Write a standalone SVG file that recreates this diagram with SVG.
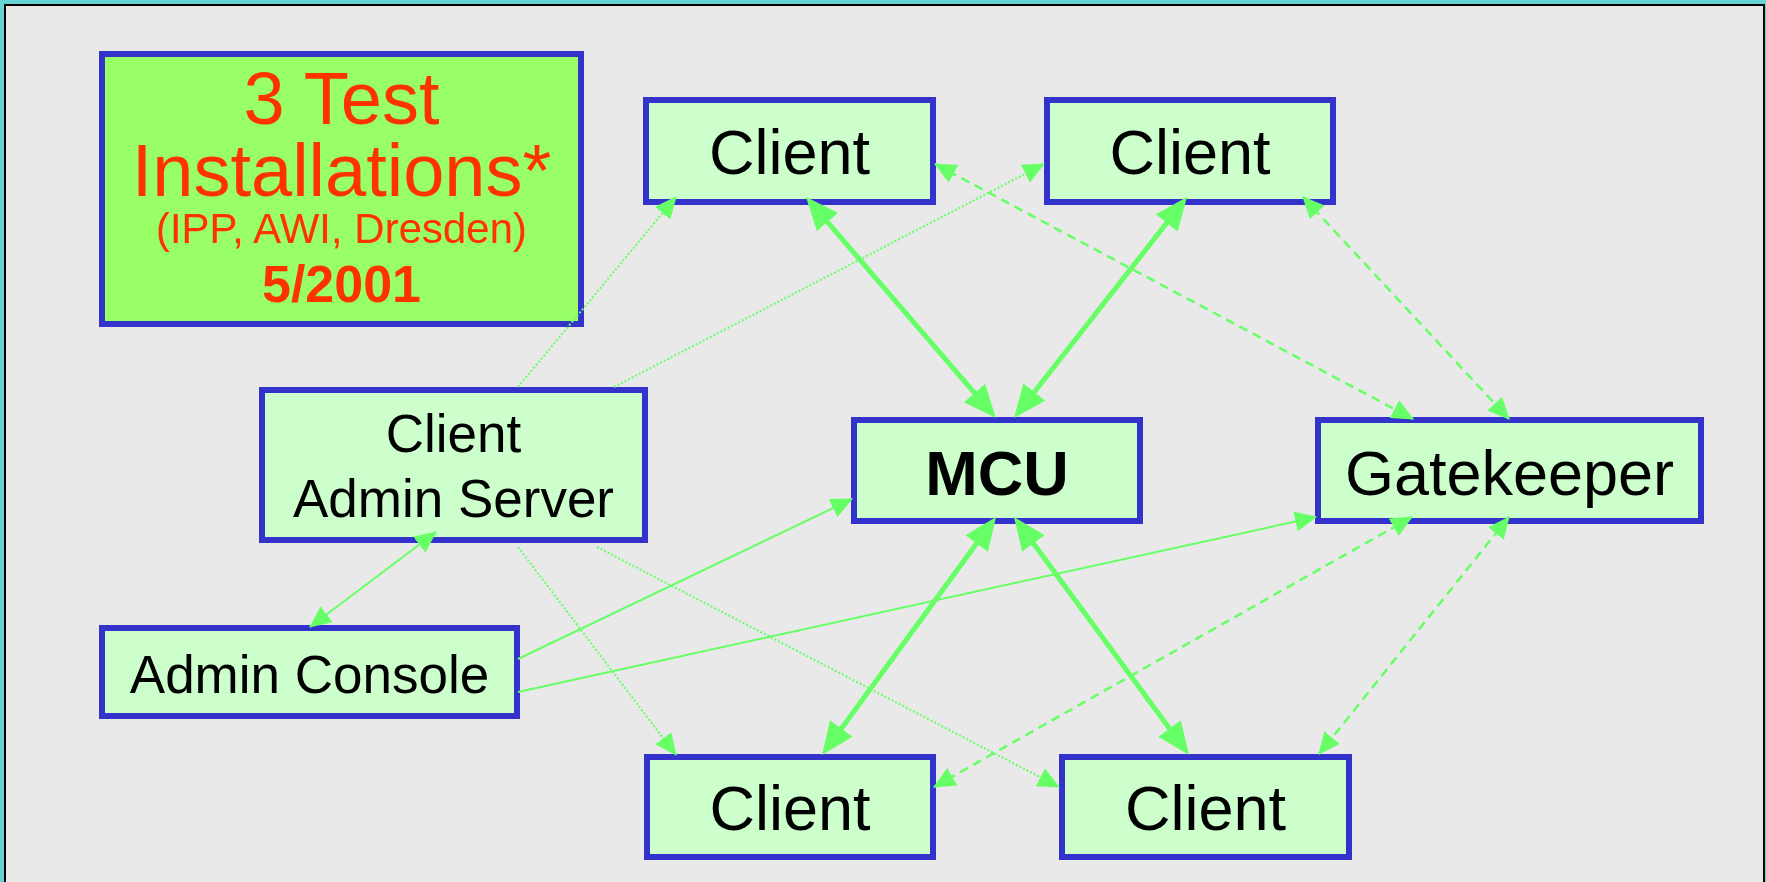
<svg xmlns="http://www.w3.org/2000/svg" width="1766" height="882" viewBox="0 0 1766 882">
  <defs>
    <style>
      .box { fill: #ccffcc; stroke: #3333cc; stroke-width: 6; }
      .title-box { fill: #99ff66; stroke: #3333cc; stroke-width: 6; }
      .lbl { font-family: "Liberation Sans", Arial, sans-serif; fill: #000; text-anchor: middle; }
      .ttl { font-family: "Liberation Sans", Arial, sans-serif; fill: #ff3300; text-anchor: middle; }
      .thick { stroke: #66ff66; stroke-width: 5; fill: none; marker-start: url(#bigArrow); marker-end: url(#bigArrow); }
      .dash { stroke: #66ff66; stroke-width: 2.5; fill: none; stroke-dasharray: 9 6; }
      .dot { stroke: #66ff66; stroke-width: 2; fill: none; stroke-dasharray: 2 2; }
      .thin { stroke: #66ff66; stroke-width: 2; fill: none; }
    </style>
    <marker id="bigArrow" viewBox="0 -14 33 28" markerWidth="33" markerHeight="28" refX="26" refY="0" markerUnits="userSpaceOnUse" orient="auto-start-reverse">
      <path d="M0,-14 L33,0 L0,14 z" fill="#66ff66"/>
    </marker>
    <marker id="smallArrow" viewBox="0 -10 22 20" markerWidth="22" markerHeight="20" refX="21" refY="0" markerUnits="userSpaceOnUse" orient="auto-start-reverse">
      <path d="M0,-10 L22,0 L0,10 z" fill="#66ff66"/>
    </marker>
  </defs>

  <!-- slide frame -->
  <rect x="0" y="0" width="1766" height="882" fill="#66d4d4"/>
  <rect x="5" y="5" width="1759" height="900" fill="#e9e9e9" stroke="#000" stroke-width="2"/>

  <!-- nodes -->
  <g id="title">
    <rect class="title-box" x="102" y="54" width="479" height="270"/>
    <text class="ttl" x="341.5" y="124" font-size="74">3 Test</text>
    <text class="ttl" x="341.5" y="196" font-size="74">Installations*</text>
    <text class="ttl" x="341.5" y="243" font-size="42">(IPP, AWI, Dresden)</text>
    <text class="ttl" x="341.5" y="302" font-size="52" font-weight="bold">5/2001</text>
  </g>
  <g id="client-top-left">
    <rect class="box" x="646" y="100" width="287" height="102"/>
    <text class="lbl" x="789.5" y="174" font-size="63">Client</text>
  </g>
  <g id="client-top-right">
    <rect class="box" x="1047" y="100" width="286" height="102"/>
    <text class="lbl" x="1190" y="174" font-size="63">Client</text>
  </g>
  <g id="client-admin-server">
    <rect class="box" x="262" y="390" width="383" height="150"/>
    <text class="lbl" x="453.5" y="452" font-size="53">Client</text>
    <text class="lbl" x="453.5" y="517" font-size="53">Admin Server</text>
  </g>
  <g id="admin-console">
    <rect class="box" x="102" y="628" width="415" height="88"/>
    <text class="lbl" x="309.5" y="693" font-size="53">Admin Console</text>
  </g>
  <g id="mcu">
    <rect class="box" x="854" y="420" width="286" height="101"/>
    <text class="lbl" x="997" y="495" font-size="63" font-weight="bold">MCU</text>
  </g>
  <g id="gatekeeper">
    <rect class="box" x="1318" y="420" width="383" height="101"/>
    <text class="lbl" x="1509.5" y="495" font-size="63">Gatekeeper</text>
  </g>
  <g id="client-bottom-left">
    <rect class="box" x="647" y="757" width="286" height="100"/>
    <text class="lbl" x="790" y="830" font-size="63">Client</text>
  </g>
  <g id="client-bottom-right">
    <rect class="box" x="1062" y="757" width="287" height="100"/>
    <text class="lbl" x="1205.5" y="830" font-size="63">Client</text>
  </g>

  <!-- connectors -->
  <g id="connectors">
    <!-- media streams between clients and MCU -->
    <line class="thick" x1="810.6" y1="202.3" x2="991.4" y2="412.7"/>
    <line class="thick" x1="1182.7" y1="202.5" x2="1018.3" y2="412.5"/>
    <line class="thick" x1="991.9" y1="522.6" x2="826.1" y2="749.4"/>
    <line class="thick" x1="1018.1" y1="522.6" x2="1184.9" y2="749.4"/>

    <!-- gatekeeper signalling -->
    <line class="dash" x1="935" y1="164" x2="1413" y2="419" marker-start="url(#smallArrow)" marker-end="url(#smallArrow)"/>
    <line class="dash" x1="1303" y1="197" x2="1509" y2="419" marker-start="url(#smallArrow)" marker-end="url(#smallArrow)"/>
    <line class="dash" x1="1412" y1="517" x2="934" y2="787" marker-start="url(#smallArrow)" marker-end="url(#smallArrow)"/>
    <line class="dash" x1="1509" y1="517" x2="1319" y2="754" marker-start="url(#smallArrow)" marker-end="url(#smallArrow)"/>

    <!-- admin server to clients -->
    <line class="dot" x1="518" y1="387" x2="676" y2="197" marker-end="url(#smallArrow)"/>
    <line class="dot" x1="614" y1="387" x2="1044" y2="164" marker-end="url(#smallArrow)"/>
    <line class="dot" x1="518" y1="547" x2="676" y2="755" marker-end="url(#smallArrow)"/>
    <line class="dot" x1="597" y1="547" x2="1059" y2="787" marker-end="url(#smallArrow)"/>

    <!-- admin console links -->
    <line class="thin" x1="436" y1="532" x2="310" y2="627" marker-start="url(#smallArrow)" marker-end="url(#smallArrow)"/>
    <line class="thin" x1="518" y1="659" x2="852" y2="499" marker-end="url(#smallArrow)"/>
    <line class="thin" x1="518" y1="692" x2="1316" y2="517" marker-end="url(#smallArrow)"/>
  </g>
</svg>
